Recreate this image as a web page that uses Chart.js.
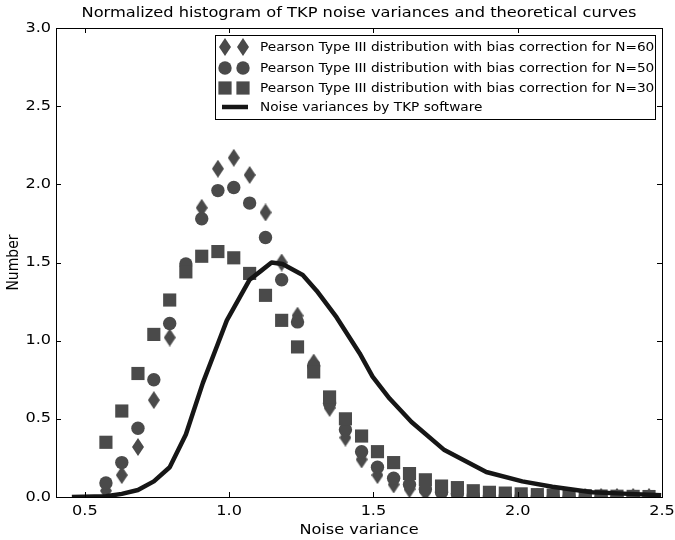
<!DOCTYPE html>
<html>
<head>
<meta charset="utf-8">
<script src="https://cdn.jsdelivr.net/npm/chart.js@4/dist/chart.umd.min.js"></script>
<style>
html,body{margin:0;padding:0;background:#fff;}
canvas{display:block;}
</style>
</head>
<body>
<canvas id="c" width="675" height="540"></canvas>
<script>
// ---- data ----
const binCenters = [0.573,0.628,0.684,0.739,0.794,0.850,0.905,0.961,1.016,1.071,1.126,1.182,1.237,1.293,1.348,1.403,1.459,1.514,1.570,1.625,1.680,1.736,1.791,1.846,1.902,1.957,2.012,2.068,2.123,2.178,2.234,2.289,2.344,2.400,2.455];
const pearsonN60 = [0.04,0.14,0.32,0.62,1.02,1.47,1.85,2.10,2.17,2.06,1.82,1.50,1.16,0.86,0.57,0.38,0.24,0.14,0.08,0.05,0.03,0.02,0.01,0.005,0.003,0.002,0.002,0.001,0.001,0.001,0.001,0.001,0.001,0.001,0.001];
const pearsonN50 = [0.09,0.22,0.44,0.75,1.11,1.49,1.78,1.96,1.98,1.88,1.66,1.39,1.12,0.84,0.60,0.43,0.29,0.19,0.12,0.08,0.05,0.03,0.02,0.01,0.008,0.005,0.004,0.003,0.002,0.002,0.001,0.001,0.001,0.001,0.001];
const pearsonN30 = [0.35,0.55,0.79,1.04,1.26,1.44,1.54,1.57,1.53,1.43,1.29,1.13,0.96,0.80,0.64,0.50,0.39,0.29,0.22,0.15,0.11,0.07,0.06,0.04,0.03,0.025,0.02,0.015,0.012,0.01,0.008,0.006,0.005,0.004,0.003];
const tkpX = [0.455,0.573,0.628,0.684,0.739,0.794,0.850,0.909,0.961,0.992,1.071,1.106,1.147,1.185,1.255,1.303,1.372,1.452,1.497,1.556,1.632,1.746,1.891,2.016,2.120,2.258,2.386,2.497];
const tkpY = [0.0,0.005,0.02,0.045,0.10,0.19,0.40,0.73,0.98,1.13,1.39,1.44,1.50,1.49,1.42,1.32,1.15,0.92,0.77,0.63,0.48,0.30,0.16,0.10,0.065,0.03,0.02,0.012];
const xTickValues = [0.5,1.0,1.5,2.0,2.5];
const yTickValues = [0.0,0.5,1.0,1.5,2.0,2.5,3.0];
const xTickLabels = ['0.5','1.0','1.5','2.0','2.5'];
const yTickLabels = ['0.0','0.5','1.0','1.5','2.0','2.5','3.0'];
const seriesLabels = [
  'Pearson Type III distribution with bias correction for N=60',
  'Pearson Type III distribution with bias correction for N=50',
  'Pearson Type III distribution with bias correction for N=30',
  'Noise variances by TKP software'
];
const titleText = 'Normalized histogram of TKP noise variances and theoretical curves';
const xTitle = 'Noise variance';
const yTitle = 'Number';

// ---- styles ----
const markerColor = '#4a4a4a';
const lineColor = '#161616';
const FONT = '"DejaVu Sans", sans-serif';
const SX = 1.15; // horizontal text stretch seen in the reference

function makeDiamond(w, h) {
  const c = document.createElement('canvas');
  c.width = w; c.height = h;
  const g = c.getContext('2d');
  g.fillStyle = markerColor;
  g.beginPath();
  g.moveTo(w/2, 0); g.lineTo(w, h/2); g.lineTo(w/2, h); g.lineTo(0, h/2);
  g.closePath(); g.fill();
  return c;
}
const diamondImg = makeDiamond(12, 18);

function pts(xs, ys) { return xs.map((x, i) => ({x: x, y: ys[i]})); }

function drawMarker(ctx, kind, x, y) {
  ctx.save();
  ctx.fillStyle = markerColor;
  if (kind === 'diamond') {
    ctx.drawImage(diamondImg, x - diamondImg.width/2, y - diamondImg.height/2);
  } else if (kind === 'circle') {
    ctx.beginPath(); ctx.arc(x, y, 6.7, 0, Math.PI*2); ctx.fill();
  } else if (kind === 'square') {
    ctx.fillRect(x - 6.6, y - 6.6, 13.2, 13.2);
  }
  ctx.restore();
}

function txt(ctx, s, x, y, align, size, sx, rot) {
  ctx.save();
  ctx.translate(x, y);
  if (rot) ctx.rotate(rot);
  ctx.scale(sx, 1);
  ctx.font = size + 'px ' + FONT;
  ctx.fillStyle = '#000';
  ctx.textAlign = align;
  ctx.textBaseline = 'middle';
  ctx.fillText(s, 0, 0);
  ctx.restore();
}

const decor = {
  id: 'decor',
  afterDraw(chart) {
    const ctx = chart.ctx;
    const a = chart.chartArea;
    const xs = chart.scales.x, ys = chart.scales.y;
    ctx.save();
    // frame
    ctx.strokeStyle = '#000';
    ctx.lineWidth = 1;
    ctx.strokeRect(Math.round(a.left) + 0.5, Math.round(a.top) + 0.5, Math.round(a.right - a.left), Math.round(a.bottom - a.top));
    // inward ticks
    const tl = 5;
    ctx.beginPath();
    xTickValues.forEach(v => {
      const px = Math.round(xs.getPixelForValue(v)) + 0.5;
      ctx.moveTo(px, a.bottom); ctx.lineTo(px, a.bottom - tl);
      ctx.moveTo(px, a.top); ctx.lineTo(px, a.top + tl);
    });
    yTickValues.forEach(v => {
      const py = Math.round(ys.getPixelForValue(v)) + 0.5;
      ctx.moveTo(a.left, py); ctx.lineTo(a.left + tl, py);
      ctx.moveTo(a.right, py); ctx.lineTo(a.right - tl, py);
    });
    ctx.stroke();
    // tick labels
    xTickValues.forEach((v, i) => txt(ctx, xTickLabels[i], xs.getPixelForValue(v), a.bottom + 14, 'center', 14, SX));
    yTickValues.forEach((v, i) => txt(ctx, yTickLabels[i], a.left - 5, ys.getPixelForValue(v), 'right', 14, SX));
    // axis titles
    txt(ctx, xTitle, (a.left + a.right) / 2, 530, 'center', 14, SX);
    ctx.save();
    ctx.translate(14, (a.top + a.bottom) / 2);
    ctx.rotate(-Math.PI / 2);
    ctx.scale(1, SX);
    ctx.font = '14px ' + FONT; ctx.fillStyle = '#000'; ctx.textAlign = 'center'; ctx.textBaseline = 'middle';
    ctx.fillText(yTitle, 0, 0);
    ctx.restore();
    // title
    txt(ctx, titleText, (a.left + a.right) / 2, 13, 'center', 14, 1.16);
    // legend
    const lx = 215, ly = 35, lw = 440, lh = 84;
    ctx.fillStyle = '#fff';
    ctx.fillRect(lx, ly, lw, lh);
    ctx.strokeStyle = '#000';
    ctx.lineWidth = 1;
    ctx.strokeRect(lx + 0.5, ly + 0.5, lw, lh);
    const rows = [47, 68, 88, 107];
    const kinds = ['diamond', 'circle', 'square'];
    for (let i = 0; i < 3; i++) {
      drawMarker(ctx, kinds[i], 225, rows[i]);
      drawMarker(ctx, kinds[i], 243, rows[i]);
    }
    ctx.strokeStyle = lineColor;
    ctx.lineWidth = 4.5;
    ctx.beginPath(); ctx.moveTo(222, rows[3]); ctx.lineTo(248, rows[3]); ctx.stroke();
    for (let i = 0; i < 4; i++) txt(ctx, seriesLabels[i], 260, rows[i] + 0.5, 'left', 12, 1.14);
    ctx.restore();
  }
};

new Chart(document.getElementById('c'), {
  type: 'scatter',
  data: {
    datasets: [
      { label: seriesLabels[0], data: pts(binCenters, pearsonN60), pointStyle: diamondImg, showLine: false, order: 3,
        backgroundColor: markerColor, borderColor: markerColor },
      { label: seriesLabels[1], data: pts(binCenters, pearsonN50), pointStyle: 'circle', pointRadius: 6.7, pointBorderWidth: 0, showLine: false, order: 2,
        backgroundColor: markerColor, borderColor: markerColor },
      { label: seriesLabels[2], data: pts(binCenters, pearsonN30), pointStyle: 'rect', pointRadius: 9.3, pointBorderWidth: 0, showLine: false, order: 1,
        backgroundColor: markerColor, borderColor: markerColor },
      { label: seriesLabels[3], data: pts(tkpX, tkpY), showLine: true, pointRadius: 0, borderWidth: 4.5, borderColor: lineColor,
        backgroundColor: lineColor, tension: 0, order: 0, borderJoinStyle: 'round', borderCapStyle: 'butt' }
    ]
  },
  options: {
    responsive: false,
    animation: false,
    events: [],
    layout: { padding: { top: 28, right: 13, left: 0, bottom: 0 } },
    plugins: { legend: { display: false }, title: { display: false }, tooltip: { enabled: false } },
    scales: {
      x: {
        type: 'linear', min: 0.4, max: 2.5,
        grid: { display: false, drawTicks: false }, border: { display: false },
        afterBuildTicks: s => { s.ticks = xTickValues.map(v => ({ value: v })); },
        afterFit: s => { s.height = 43; },
        ticks: { display: false }
      },
      y: {
        type: 'linear', min: 0, max: 3,
        grid: { display: false, drawTicks: false }, border: { display: false },
        afterBuildTicks: s => { s.ticks = yTickValues.map(v => ({ value: v })); },
        afterFit: s => { s.width = 56; },
        ticks: { display: false }
      }
    }
  },
  plugins: [decor]
});
</script>
</body>
</html>
